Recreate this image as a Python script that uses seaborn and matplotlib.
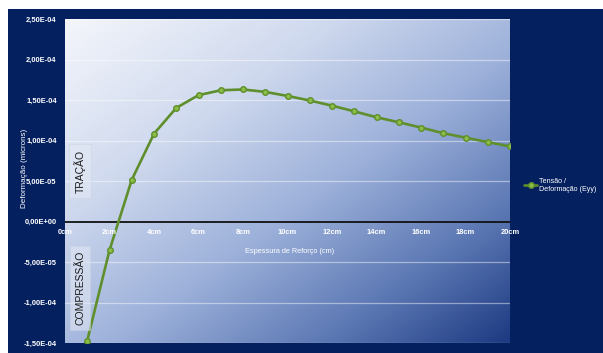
import numpy as np
import pandas as pd
import matplotlib
matplotlib.use("Agg")
import matplotlib.pyplot as plt
from matplotlib.colors import LinearSegmentedColormap
from matplotlib.patches import Rectangle
import seaborn as sns

# Strain values along the reinforcement thickness
espessura_cm = [1, 2, 3, 4, 5, 6, 7, 8, 9, 10, 11, 12, 13, 14, 15, 16, 17, 18, 19, 20]
deformacao = [-1.47e-4, -3.55e-5, 5.14e-5, 1.084e-4, 1.402e-4, 1.56e-4, 1.62e-4, 1.63e-4,
              1.60e-4, 1.55e-4, 1.494e-4, 1.43e-4, 1.36e-4, 1.287e-4, 1.225e-4, 1.16e-4,
              1.09e-4, 1.035e-4, 9.8e-5, 9.27e-5]
serie_nome = "Tensão /\nDeformação (Eyy)"

y_ticks = [-1.5e-4, -1.0e-4, -5.0e-5, 0.0, 5.0e-5, 1.0e-4, 1.5e-4, 2.0e-4, 2.5e-4]
x_ticks = [0, 2, 4, 6, 8, 10, 12, 14, 16, 18, 20]
x_tick_labels = [f"{v}cm" for v in x_ticks]

df = pd.DataFrame({"Espessura": espessura_cm, "Deformacao": deformacao, "Serie": serie_nome})

sns.set_theme(style="white")
plt.rcParams["font.family"] = ["Liberation Sans", "DejaVu Sans"]

W, H = 603, 353
fig = plt.figure(figsize=(W / 100, H / 100), dpi=100)
fig.patch.set_facecolor("white")
navy = "#04205f"
fig.patches.append(Rectangle((8 / W, 0), 1 - 8 / W, 1 - 9 / H, transform=fig.transFigure,
                             facecolor=navy, edgecolor="none", zorder=-10))

left, right, top, bottom = 65, 510, 19, 343
ax = fig.add_axes([left / W, (H - bottom) / H, (right - left) / W, (bottom - top) / H])
ax.set_zorder(1)
ax.set_xlim(0, 20)
ax.set_ylim(-1.5e-4, 2.5e-4)

# Diagonal gradient fill of the plotting area (light top-left, dark bottom-right)
cmap = LinearSegmentedColormap.from_list(
    "fundo", [(0.0, "#f4f6fb"), (0.3, "#cfd9ee"), (0.55, "#9db1da"),
              (0.78, "#5f7bb6"), (1.0, "#1d3a82")])
gx, gy = np.meshgrid(np.linspace(0, 1, 300), np.linspace(0, 1, 300))
grad = 0.5 * gx + 0.5 * gy
ax.imshow(grad, cmap=cmap, extent=[0, 20, -1.5e-4, 2.5e-4], aspect="auto",
          origin="upper", zorder=0, interpolation="bilinear")
ax.set_ylim(-1.5e-4, 2.5e-4)

for v in y_ticks:
    if v != 0:
        ax.axhline(v, color="white", lw=0.9, alpha=0.45, zorder=1)
ax.axhline(0, color="#111111", lw=1.3, zorder=2)

sns.lineplot(data=df, x="Espessura", y="Deformacao", hue="Serie", palette=["#5e8f2c"],
             marker="o", markersize=4.0, markerfacecolor="#8cbd48",
             markeredgecolor="#5e8f2c", markeredgewidth=1.0, lw=1.9, ax=ax, zorder=3)

for s in ax.spines.values():
    s.set_visible(False)

ax.set_yticks(y_ticks)
ax.set_yticklabels([f"{v:.2E}".replace(".", ",") for v in y_ticks],
                   color="white", fontsize=5.4, fontweight="bold")
ax.tick_params(axis="y", length=0, pad=6)
ax.set_xticks([])
ax.set_xlabel("")
ax.set_ylabel("")

for xv, lab in zip(x_ticks, x_tick_labels):
    ax.text(xv, -1.3e-5, lab, color="white", fontsize=5.4, fontweight="bold",
            ha="center", va="center", zorder=4)

ax.text(10.1, -3.7e-5, "Espessura de Reforço (cm)", color="white", fontsize=5.3,
        ha="center", va="center", zorder=4)
fig.text(25 / W, 1 - 168 / H, "Deformação (microns)", color="white", fontsize=5.8,
         rotation=90, ha="center", va="center")

caixa = dict(boxstyle="square,pad=0.5", facecolor="#e4eaf4", edgecolor="#c9d2e2",
             lw=0.6, alpha=0.55)
ax.text((80 - left) / (right - left), (bottom - 171) / (bottom - top), "TRAÇÃO",
        transform=ax.transAxes, rotation=90, ha="center", va="center",
        fontsize=7.5, color="#1a1a1a", bbox=caixa, zorder=4)
ax.text((80 - left) / (right - left), (bottom - 288) / (bottom - top), "COMPRESSÃO",
        transform=ax.transAxes, rotation=90, ha="center", va="center",
        fontsize=7.5, color="#1a1a1a", bbox=caixa, zorder=4)

leg = ax.legend(loc="upper left", bbox_to_anchor=(521 / W, 1 - 175 / H),
                bbox_transform=fig.transFigure, frameon=False, fontsize=5.1,
                handlelength=1.9, handletextpad=0.3, borderaxespad=0)
for t in leg.get_texts():
    t.set_color("white")

fig.savefig("out.png", dpi=100, facecolor=fig.get_facecolor())
